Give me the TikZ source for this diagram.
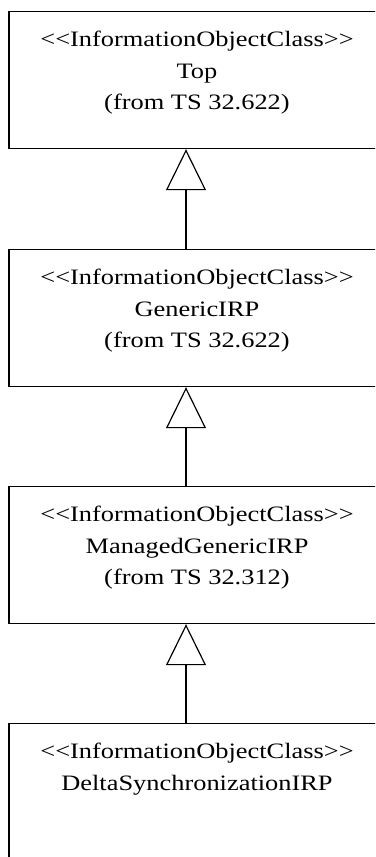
\documentclass[tikz,border=0pt]{standalone}
\usepackage{fontspec}
\setmainfont{Liberation Serif}[Ligatures=TeXOff]
\usetikzlibrary{positioning,arrows.meta}

\begin{document}
\begin{tikzpicture}[x=1pt, y=-1pt]
\tikzset{classbox/.style={draw, line width=1.2pt, rectangle, minimum width=376pt, minimum height=137pt, anchor=north, inner sep=0pt},
         classtext/.style={align=center, inner sep=0pt, xscale=1.2, transform shape, font=\fontsize{22}{31.5}\selectfont},
         inherit/.style={line width=1.2pt, -{Triangle[open, length=41pt, width=40pt]}}}
\useasboundingbox (0,0) rectangle (375,857);
\clip (0,0) rectangle (375,857);
\node[classbox] (C1) at (197,11) {};
\node[classbox] (C2) at (197,249) {};
\node[classbox] (C3) at (197,486) {};
\node[classbox] (C4) at (197,723) {};
\node[classtext, below=20pt of C1.north] (T1) {<<InformationObjectClass>>\\Top\\(from TS 32.622)};
\node[classtext, below=20pt of C2.north] (T2) {<<InformationObjectClass>>\\GenericIRP\\(from TS 32.622)};
\node[classtext, below=20pt of C3.north] (T3) {<<InformationObjectClass>>\\ManagedGenericIRP\\(from TS 32.312)};
\node[classtext, below=20pt of C4.north] (T4) {<<InformationObjectClass>>\\DeltaSynchronizationIRP};
\draw[inherit] ([xshift=-11pt]C2.north) -- ([xshift=-11pt]C1.south);
\draw[inherit] ([xshift=-11pt]C3.north) -- ([xshift=-11pt]C2.south);
\draw[inherit] ([xshift=-11pt]C4.north) -- ([xshift=-11pt]C3.south);
\end{tikzpicture}
\end{document}
